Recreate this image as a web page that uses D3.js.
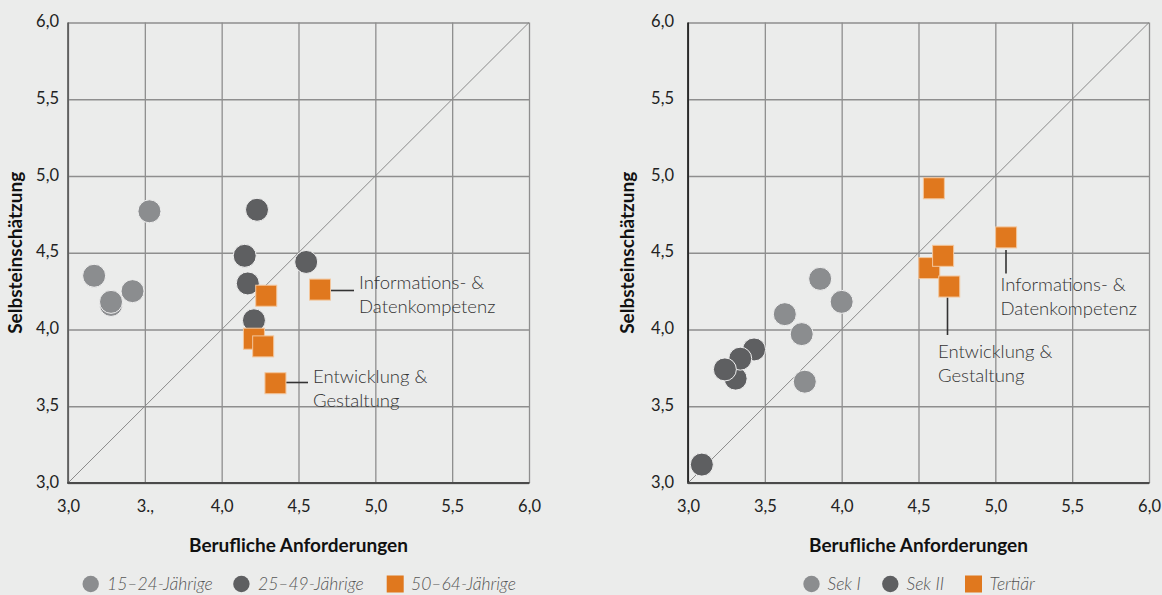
<!DOCTYPE html>
<html><head><meta charset="utf-8">
<script src="https://cdn.jsdelivr.net/npm/d3@7/dist/d3.min.js"></script>
<style>
html,body{margin:0;padding:0;background:#ebeceb;}
svg{display:block;font-family:Lato,"Open Sans",sans-serif;}
</style></head>
<body><svg id="c" width="1162" height="595"></svg>
<script>
// ---- Data ----
const leftXTicks = [3.0,3.5,4.0,4.5,5.0,5.5,6.0];
const leftXTickLabels = ["3,0","3.,","4,0","4,5","5,0","5,5","6,0"];
const rightXTickLabels = ["3,0","3,5","4,0","4,5","5,0","5,5","6,0"];
const yTicks = [3.0,3.5,4.0,4.5,5.0,5.5,6.0];
const yTickLabels = ["3,0","3,5","4,0","4,5","5,0","5,5","6,0"];

const leftSeriesNames = ["15–24-Jährige","25–49-Jährige","50–64-Jährige"];
const rightSeriesNames = ["Sek I","Sek II","Tertiär"];

// [Berufliche Anforderungen, Selbsteinschätzung]
const age15_24 = [[3.53,4.77],[3.17,4.35],[3.42,4.25],[3.28,4.16],[3.28,4.18]];
const age25_49 = [[4.23,4.78],[4.15,4.48],[4.55,4.44],[4.17,4.30],[4.21,4.06]];
const age50_64 = [[4.29,4.22],[4.64,4.26],[4.21,3.94],[4.27,3.89],[4.35,3.65]];

const sekI   = [[3.86,4.33],[4.00,4.18],[3.63,4.10],[3.74,3.97],[3.76,3.66]];
const sekII  = [[3.43,3.87],[3.31,3.68],[3.34,3.81],[3.24,3.74],[3.09,3.12]];
const tertiaer = [[4.60,4.92],[5.07,4.60],[4.57,4.40],[4.66,4.48],[4.70,4.28]];

const xTitle = "Berufliche Anforderungen";
const yTitle = "Selbsteinschätzung";
const annoInfo = ["Informations- &","Datenkompetenz"];
const annoEntw = ["Entwicklung &","Gestaltung"];

// ---- Styles ----
const C_LIGHT = "#8b8d8f", C_DARK = "#5e5f61", C_ORANGE = "#e0781e";
const svg = d3.select("#c");

function panel(opt){
  const g = svg.append("g");
  const x = d3.scaleLinear().domain([3,6]).range([opt.x0, opt.x0+461]);
  const y = d3.scaleLinear().domain([3,6]).range([483, 22.5]);

  // grid
  g.append("g").attr("transform",`translate(0,${y(3)})`)
    .call(d3.axisBottom(x).tickValues(leftXTicks).tickSize(-(y(3)-y(6))).tickFormat((d,i)=>opt.xLabels[i]))
    .call(a=>{a.select(".domain").remove();
      a.selectAll(".tick line").attr("stroke","#8e8e8e").attr("stroke-width",1.3);
      a.selectAll(".tick text").attr("dy",0).attr("y",25).attr("dominant-baseline","middle")
       .attr("font-size",16.5).attr("fill","#222").attr("font-family","Lato");});
  g.append("g").attr("transform",`translate(${x(3)},0)`)
    .call(d3.axisLeft(y).tickValues(yTicks).tickSize(-(x(6)-x(3))).tickFormat((d,i)=>yTickLabels[i]))
    .call(a=>{a.select(".domain").remove();
      a.selectAll(".tick line").attr("stroke","#8e8e8e").attr("stroke-width",1.3);
      a.selectAll(".tick text").attr("x",-opt.yLabelGap).attr("dy",0).attr("dominant-baseline","middle")
       .attr("font-size",16.5).attr("fill","#222").attr("font-family","Lato");});
  // diagonal
  g.append("line").attr("x1",x(3)).attr("y1",y(3)).attr("x2",x(6)).attr("y2",y(6))
    .attr("stroke","#8a8a8a").attr("stroke-width",1);
  // axes lines
  g.append("line").attr("x1",x(3)).attr("x2",x(3)).attr("y1",y(6)).attr("y2",y(3))
    .attr("stroke",opt.yAxisColor).attr("stroke-width",1.6);
  g.append("line").attr("x1",x(3)-0.8).attr("x2",x(6)+0.5).attr("y1",y(3)).attr("y2",y(3))
    .attr("stroke","#4a4a4a").attr("stroke-width",2);

  // annotations lines
  opt.annoLines.forEach(l=>{
    g.append("line").attr("x1",l[0]).attr("y1",l[1]).attr("x2",l[2]).attr("y2",l[3])
      .attr("stroke","#333").attr("stroke-width",1.6);
  });

  // points
  const [s1,s2,s3] = opt.series;
  g.append("g").selectAll("circle").data(s1).join("circle")
    .attr("cx",d=>x(d[0])).attr("cy",d=>y(d[1])).attr("r",11.5)
    .attr("fill",C_LIGHT).attr("stroke","#f0f0f0").attr("stroke-width",1);
  g.append("g").selectAll("circle").data(s2).join("circle")
    .attr("cx",d=>x(d[0])).attr("cy",d=>y(d[1])).attr("r",11.5)
    .attr("fill",C_DARK).attr("stroke","#f0f0f0").attr("stroke-width",1);
  const S = 21;
  g.append("g").selectAll("rect").data(s3).join("rect")
    .attr("x",d=>x(d[0])-S/2).attr("y",d=>y(d[1])-S/2).attr("width",S).attr("height",S)
    .attr("fill",C_ORANGE).attr("stroke","#f3c69c").attr("stroke-width",1);

  // annotation texts (baseline positioned)
  opt.annoTexts.forEach(t=>{
    t.lines.forEach((s,i)=>{
      g.append("text").attr("x",t.x).attr("y",t.y+i*24)
        .attr("font-size",18.5).attr("font-weight",300).attr("fill","#333").text(s);
    });
  });

  // titles
  g.append("text").attr("x",(x(3)+x(6))/2).attr("y",552).attr("text-anchor","middle")
    .attr("font-size",19).attr("font-weight",700)
    .attr("fill","#111").text(xTitle);
  g.append("text").attr("transform",`translate(${opt.yTitleX},${(y(3)+y(6))/2}) rotate(-90)`)
    .attr("text-anchor","middle").attr("dominant-baseline","middle").attr("font-size",19)
    .attr("font-weight",700).attr("fill","#111").text(yTitle);

  // legend
  const L = opt.legend;
  const lg = g.append("g");
  lg.append("circle").attr("cx",L[0]).attr("cy",584).attr("r",8.2).attr("fill",C_LIGHT);
  lg.append("circle").attr("cx",L[2]).attr("cy",584).attr("r",8.2).attr("fill",C_DARK);
  lg.append("rect").attr("x",L[4]-8.5).attr("y",584-8.5).attr("width",17).attr("height",17).attr("fill",C_ORANGE);
  [[L[1],opt.names[0]],[L[3],opt.names[1]],[L[5],opt.names[2]]].forEach(p=>{
    lg.append("text").attr("x",p[0]).attr("y",590)
      .attr("font-size",17.5).attr("font-style","italic").attr("font-weight",300)
      .attr("fill","#555").text(p[1]);
  });
  return {x,y};
}

panel({
  x0:68, xLabels:leftXTickLabels, yLabelGap:9, yAxisColor:"#555", yTitleX:17,
  series:[age15_24, age25_49, age50_64], names:leftSeriesNames,
  annoLines:[[331,290.5,354,290.5],[286,382.5,308,382.5]],
  annoTexts:[{x:359,y:288.5,lines:annoInfo},{x:313,y:382.7,lines:annoEntw}],
  legend:[90.7,107,241.4,258,395.2,411]
});
panel({
  x0:688, xLabels:rightXTickLabels, yLabelGap:14, yAxisColor:"#111", yTitleX:629,
  series:[sekI, sekII, tertiaer], names:rightSeriesNames,
  annoLines:[[1006,250,1006,273.5],[947.5,297.5,947.5,335]],
  annoTexts:[{x:1000.5,y:291,lines:annoInfo},{x:938,y:357.7,lines:annoEntw}],
  legend:[811.5,827.5,890.3,906.5,973.5,989.5]
});
</script></body></html>
